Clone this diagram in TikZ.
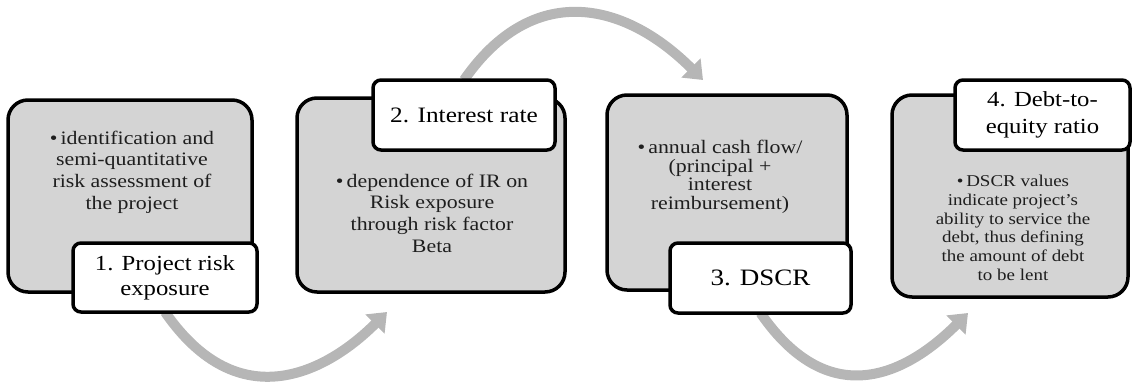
\documentclass[tikz,border=0pt]{standalone}
\usepackage{fontspec}
\setmainfont{Liberation Serif}[FakeStretch=1.15]
\usetikzlibrary{arrows.meta,backgrounds}
\definecolor{boxgray}{RGB}{212,212,212}
\definecolor{arrowgray}{RGB}{182,182,182}
\definecolor{txt}{RGB}{30,30,30}
\tikzset{
  graybox/.style={draw=black,fill=boxgray,line width=3.5pt,rounded corners=20pt,inner sep=0pt,outer sep=0pt},
  labelbox/.style={draw=black,fill=white,line width=3.5pt,rounded corners=8pt,inner sep=0pt,outer sep=0pt,align=center,text=black},
  bodytext/.style={align=center,text=txt,inner sep=0pt},
  flowarrow/.style={draw=arrowgray,line width=10pt,-{Triangle[width=26pt,length=17pt]}}
}
\begin{document}
\begin{tikzpicture}[x=1pt,y=-1pt]
\useasboundingbox (0,0) rectangle (1133,381);
% gray boxes
\node[graybox,minimum width=244pt,minimum height=192pt] (b1) at (130,196) {};
\node[graybox,minimum width=268pt,minimum height=194pt] (b2) at (431,195) {};
\node[graybox,minimum width=240pt,minimum height=195pt] (b3) at (727,192.5) {};
\node[graybox,minimum width=236pt,minimum height=202pt] (b4) at (1010,196) {};
% body texts
\node[bodytext,font=\fontsize{19}{21.7}\selectfont] (t1) at (132,172) {•\,identification and\\semi-quantitative\\risk assessment of\\the project};
\node[bodytext,font=\fontsize{19}{21.7}\selectfont] (t2) at (432,213) {•\,dependence of IR on\\Risk exposure\\through risk factor\\Beta};
\node[bodytext,font=\fontsize{19}{18.5}\selectfont] (t3) at (720,177) {•\,annual cash flow/\\(principal +\\interest\\reimbursement)};
\node[bodytext,font=\fontsize{16.5}{18.7}\selectfont] (t4) at (1013,228) {•\,DSCR values\\indicate project's\\ability to service the\\debt, thus defining\\the amount of debt\\to be lent};
% labels
\node[labelbox,minimum width=184pt,minimum height=69pt,font=\fontsize{21.5}{25}\selectfont] (l1) at (165,277.5) {1. Project risk\\exposure};
\node[labelbox,minimum width=182pt,minimum height=70pt,font=\fontsize{22}{25}\selectfont] (l2) at (464,115) {2. Interest rate};
\node[labelbox,minimum width=181pt,minimum height=70pt,font=\fontsize{23.5}{27}\selectfont] (l3) at (760.5,278) {3. DSCR};
\node[labelbox,minimum width=175pt,minimum height=70pt,font=\fontsize{21.5}{27}\selectfont] (l4) at (1042.5,115) {4. Debt-to-\\equity ratio};
% arrow end points
\coordinate (e1) at ([xshift=-44pt,yshift=-20pt]b2.south);
\coordinate (e2) at ([xshift=-24pt,yshift=15pt]b3.north);
\coordinate (e3) at ([xshift=-42pt,yshift=-16pt]b4.south);
\begin{scope}[on background layer]
\draw[flowarrow] (l1.south) .. controls +(74,107) and +(-60,60) .. (e1);
\draw[flowarrow] (l2.north) .. controls +(68,-98) and +(-80,-80) .. (e2);
\draw[flowarrow] (l3.south) .. controls +(71,103) and +(-58,58) .. (e3);
\end{scope}
\end{tikzpicture}
\end{document}
